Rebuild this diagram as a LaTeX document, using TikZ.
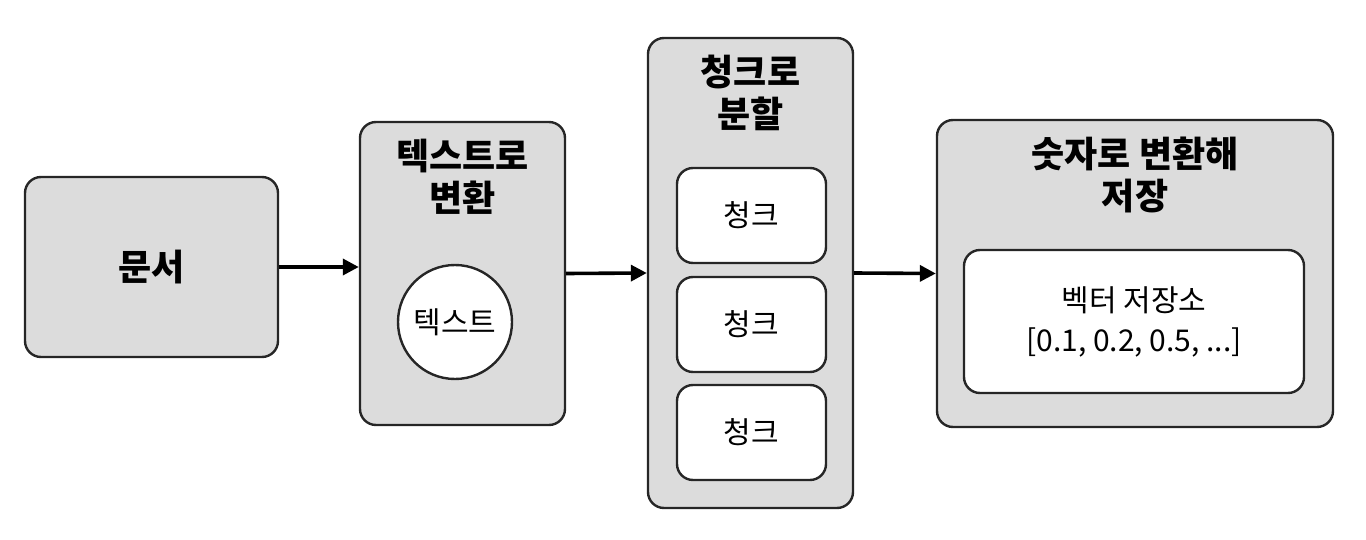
\documentclass[tikz,border=0pt]{standalone}
\usepackage{fontspec}
\setmainfont{Noto Sans CJK KR}
\usetikzlibrary{arrows.meta, positioning}

\definecolor{boxgray}{HTML}{DCDCDC}

\begin{document}
\begin{tikzpicture}[x=0.5pt, y=-0.5pt,
        stage/.style={rectangle, rounded corners=8pt, draw=black!85, line width=1.2pt, fill=boxgray, inner sep=0pt},
        item/.style={rectangle, rounded corners=8pt, draw=black!85, line width=1.2pt, fill=white, inner sep=0pt, font=\fontsize{15}{18}\selectfont},
        title/.style={font=\bfseries\fontsize{18}{22}\selectfont, align=center, below},
        flow/.style={-{Triangle[length=8pt, width=8pt]}, line width=1.8pt}
    ]
    \useasboundingbox (0,0) rectangle (1366,540);

    % Stages
    \node[stage, minimum width=126.5pt, minimum height=90pt, font=\bfseries\fontsize{18}{22}\selectfont] (doc) at (151.5,267) {문서};
    \node[stage, minimum width=102.5pt, minimum height=151.5pt] (totext) at (462.5,273.5) {};
    \node[stage, minimum width=102.5pt, minimum height=235pt] (split) at (750.5,273) {};
    \node[stage, minimum width=198pt, minimum height=153.5pt] (store) at (1135,273.5) {};

    % Titles
    \node[title] (totextlbl) at (462.5,132) {텍스트로\\[-1pt]변환};
    \node[title] (splitlbl) at (750.5,48) {청크로\\[-1pt]분할};
    \node[title] (storelbl) at (1135,130) {숫자로 변환해\\[-1pt]저장};

    % Contents
    \node[circle, draw=black!85, line width=1.2pt, fill=white, minimum size=57pt, inner sep=0pt, font=\fontsize{15}{18}\selectfont] (text) at (455,322) {텍스트};
    \foreach \y/\n in {215.5/chunka, 324.5/chunkb, 432.5/chunkc}
        \node[item, minimum width=74.5pt, minimum height=47.5pt] (\n) at (751.5,\y) {청크};
    \node[item, minimum width=170pt, minimum height=71.5pt, align=center] (vec) at (1134,321.5) {벡터 저장소\\[2pt]{[}0.1, 0.2, 0.5, ...{]}};

    % Flow
    \draw[flow] (doc.east) -- (totext.west |- doc.east);
    \draw[flow] (totext.east) -- (split.west);
    \draw[flow] (split.east) -- (store.west);
\end{tikzpicture}
\end{document}
